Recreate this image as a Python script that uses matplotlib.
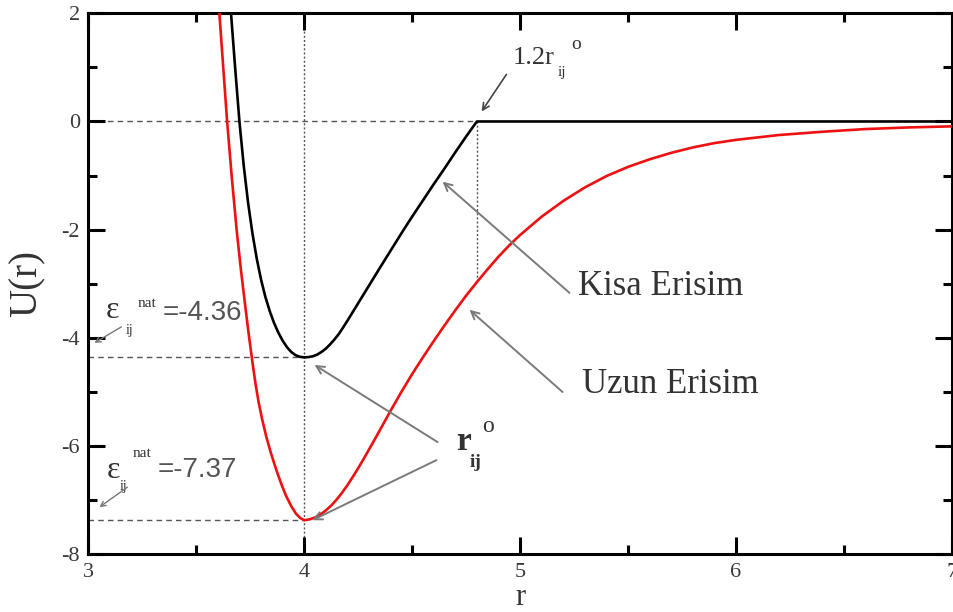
import numpy as np
import matplotlib
matplotlib.use("Agg")
import matplotlib.pyplot as plt
from matplotlib.ticker import MultipleLocator

plt.rcParams["axes.unicode_minus"] = False
SERIF = ["Liberation Serif", "DejaVu Serif"]
SANS = ["Liberation Sans", "DejaVu Sans"]

# Equilibrium distance and well depths
r0 = 4.0
cutoff = 1.2 * r0
eps_short = -4.36
eps_long = -7.37

# Short-range potential (Kisa Erisim): truncated at 1.2 r0, zero beyond
r_short = [3.661, 3.680, 3.700, 3.720, 3.740, 3.760, 3.780, 3.800, 3.820, 3.840,
           3.860, 3.880, 3.900, 3.920, 3.940, 3.960, 3.980, 4.000, 4.020, 4.040,
           4.060, 4.080, 4.100, 4.120, 4.140, 4.160, 4.180, 4.200, 4.220, 4.240,
           4.260, 4.280, 4.300, 4.350, 4.400, 4.450, 4.500, 4.550, 4.600, 4.650,
           4.700, 4.750, 4.800, 7.000]
u_short = [2.00, 1.00, 0.00, -0.82, -1.50, -2.06, -2.53, -2.92, -3.24, -3.50,
           -3.72, -3.90, -4.05, -4.17, -4.26, -4.32, -4.35, -4.36, -4.355, -4.34,
           -4.31, -4.26, -4.20, -4.12, -4.03, -3.93, -3.81, -3.685, -3.555, -3.425,
           -3.295, -3.165, -3.035, -2.71, -2.39, -2.07, -1.76, -1.46, -1.16, -0.87,
           -0.57, -0.28, 0.00, 0.00]

# Long-range potential (Uzun Erisim)
r_long = [3.607, 3.625, 3.643, 3.665, 3.687, 3.706, 3.726, 3.744, 3.762, 3.775,
          3.789, 3.805, 3.824, 3.846, 3.870, 3.893, 3.916, 3.940, 3.962, 3.982,
          4.000, 4.025, 4.050, 4.075, 4.100, 4.125, 4.150, 4.175, 4.200, 4.225,
          4.250, 4.275, 4.300, 4.325, 4.350, 4.375, 4.400, 4.450, 4.500, 4.550,
          4.600, 4.650, 4.700, 4.750, 4.800, 4.850, 4.900, 4.950, 5.000, 5.100,
          5.200, 5.300, 5.400, 5.500, 5.600, 5.700, 5.800, 5.900, 6.000, 6.200,
          6.400, 6.600, 6.800, 7.000]
u_long = [2.00, 1.00, 0.00, -1.05, -2.00, -2.71, -3.38, -3.96, -4.50, -4.86,
          -5.19, -5.50, -5.82, -6.13, -6.43, -6.69, -6.92, -7.11, -7.25, -7.33,
          -7.37, -7.355, -7.32, -7.265, -7.19, -7.10, -6.99, -6.865, -6.725, -6.57,
          -6.41, -6.24, -6.065, -5.89, -5.71, -5.53, -5.35, -5.00, -4.67, -4.36,
          -4.06, -3.77, -3.49, -3.22, -2.97, -2.73, -2.50, -2.29, -2.10, -1.76,
          -1.47, -1.22, -1.01, -0.84, -0.70, -0.58, -0.48, -0.40, -0.34, -0.25,
          -0.19, -0.14, -0.11, -0.09]

x_ticks = [3, 4, 5, 6, 7]
y_ticks = [-8, -6, -4, -2, 0, 2]

fig = plt.figure(figsize=(9.54, 6.12), dpi=100)
ax = fig.add_axes([0.0926, 0.0943, 0.905, 0.884])

guide = dict(color="#555555", lw=1.0, zorder=1)
# horizontal dashed guides
ax.plot([3, cutoff], [0, 0], dashes=(4, 3), **guide)
ax.plot([3, r0], [eps_short, eps_short], dashes=(4, 3), **guide)
ax.plot([3, r0], [eps_long, eps_long], dashes=(4, 3), **guide)
# vertical dotted guides
ax.plot([r0, r0], [-8, 2], dashes=(1.5, 1.5), **guide)
u_long_at_cut = u_long[r_long.index(cutoff)]
ax.plot([cutoff, cutoff], [0, u_long_at_cut], dashes=(1.5, 1.5), **guide)

ax.plot(r_long, u_long, color="#ee1111", lw=1.9, zorder=3,
        solid_joinstyle="round")
ax.plot(r_short, u_short, color="black", lw=1.9, zorder=4,
        solid_joinstyle="round")

ax.set_xlim(3, 7)
ax.set_ylim(-8, 2)
ax.set_xticks(x_ticks)
ax.set_yticks(y_ticks)
ax.set_xticklabels([str(v) for v in x_ticks])
ax.set_yticklabels([str(v) for v in y_ticks])
ax.xaxis.set_minor_locator(MultipleLocator(0.5))
ax.yaxis.set_minor_locator(MultipleLocator(1))
ax.tick_params(which="both", direction="in", top=True, right=True, width=2.2,
               color="black")
ax.tick_params(which="major", length=12, labelsize=16, labelcolor="#3a3a3a")
ax.tick_params(which="minor", length=6.5)
ax.tick_params(axis="x", which="major", pad=6)
ax.tick_params(axis="y", which="major", pad=6)
for lab in ax.get_xticklabels() + ax.get_yticklabels():
    lab.set_family(SERIF)
for s in ax.spines.values():
    s.set_linewidth(2.2)

ax.set_xlabel("r", family=SERIF, fontsize=22, color="#333333")
ax.xaxis.label.set_verticalalignment("baseline")
ax.set_ylabel("U(r)", family=SERIF, fontsize=28, color="#333333")
ax.xaxis.set_label_coords(0.5, -0.094)
ax.yaxis.set_label_coords(-0.05, 0.5)

txt = "#333333"
arrow_gray = dict(arrowstyle="->", color="#7a7a7a", lw=1.4, shrinkA=0, shrinkB=0,
                  mutation_scale=14)
arrow_dark = dict(arrowstyle="->", color="#444444", lw=1.2, shrinkA=0, shrinkB=0,
                  mutation_scale=12)

# 1.2 r0 cut-off label
ax.annotate("", xy=(4.822, 0.185), xytext=(4.937, 0.870), arrowprops=arrow_dark)
ax.text(4.965, 1.056, "1.2r", family=SERIF, fontsize=19, color=txt, va="baseline")
ax.text(5.174, 0.833, "ij", family=SERIF, fontsize=11, color=txt, va="baseline")
ax.text(5.239, 1.333, "o", family=SERIF, fontsize=14, color=txt, va="baseline")

# curve labels
ax.annotate("", xy=(4.641, -1.111), xytext=(5.229, -3.167), arrowprops=arrow_gray)
ax.text(5.267, -3.204, "Kisa Erisim", family=SERIF, fontsize=25, color=txt,
        va="baseline")
ax.annotate("", xy=(4.766, -3.481), xytext=(5.197, -5.0), arrowprops=arrow_gray)
ax.text(5.285, -5.019, "Uzun Erisim", family=SERIF, fontsize=25, color=txt,
        va="baseline")

# equilibrium distance label
ax.annotate("", xy=(4.048, -4.50), xytext=(4.618, -5.926), arrowprops=arrow_gray)
ax.annotate("", xy=(4.038, -7.37), xytext=(4.613, -6.259), arrowprops=arrow_gray)
ax.text(4.706, -6.074, "r", family=SERIF, fontsize=24, color=txt, va="baseline",
        fontweight="bold")
ax.text(4.766, -6.389, "ij", family=SERIF, fontsize=14, color=txt, va="baseline",
        fontweight="bold")
ax.text(4.826, -5.741, "o", family=SERIF, fontsize=17, color=txt, va="baseline")

# well depth labels
for (ex, ey, sx, sy, nx, ny, vx, vy, val, tail, head) in [
        (3.079, -3.63, 3.171, -3.926, 3.227, -3.426, 3.343, -3.667, eps_short,
         (3.153, -3.796), (3.028, -4.093)),
        (3.083, -6.593, 3.144, -6.815, 3.204, -6.204, 3.320, -6.574, eps_long,
         (3.181, -6.759), (3.051, -7.13))]:
    ax.text(ex, ey, "\u03b5", family=SERIF, fontsize=23, color=txt, va="baseline")
    ax.text(sx, sy, "ij", family=SERIF, fontsize=10, color=txt, va="baseline")
    ax.text(nx, ny, "nat", family=SERIF, fontsize=11, color=txt, va="baseline")
    ax.text(vx, vy, "=%.2f" % val, family=SANS, fontsize=20, color="#555555",
            va="baseline")
    ax.annotate("", xy=head, xytext=tail,
                arrowprops=dict(arrowstyle="->", color="#777777", lw=1.0,
                                shrinkA=0, shrinkB=0, mutation_scale=9))

fig.savefig("out.png", dpi=100)
